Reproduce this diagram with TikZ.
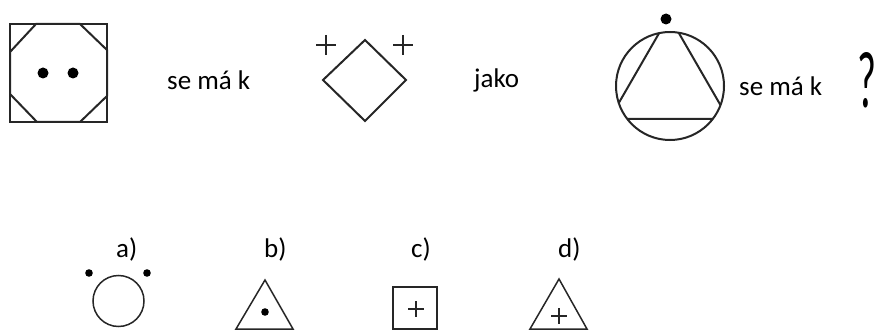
\documentclass[tikz,border=0pt]{standalone}
\usepackage{fontspec}
\setmainfont{Carlito}
\begin{document}
\begin{tikzpicture}[x=1pt,y=-1pt,
  fig/.style={draw=black!85, line width=2pt, line join=miter},
  small/.style={draw=black!85, line width=1.5pt, line join=miter},
  thin/.style={draw=black!85, line width=1.1pt},
  dot/.style={fill=black},
  lbl/.style={font=\fontsize{27}{31}\selectfont, inner sep=0pt, anchor=base west}]
\useasboundingbox (0,0) rectangle (877,331);
% figure 1: square with octagon and two dots
\draw[fig] (10,24) rectangle (107,122);
\draw[fig] (36,24) -- (80,24) -- (107,50) -- (107,96) -- (80,122) -- (37,122) -- (10,94) -- (10,52) -- cycle;
\fill[dot] (43,73) circle (5.5);
\fill[dot] (73,73) circle (5.5);
\node[lbl] (t1) at (167,90) {se má k};
% figure 2: diamond with two plus signs
\draw[fig] (365,40) -- (406,80) -- (365,121) -- (323,80) -- cycle;
\draw[fig, line width=2.6pt] (316,45) -- (336,45) (326,35) -- (326,55);
\draw[fig, line width=2.6pt] (393,45) -- (413,45) (403,35) -- (403,55);
\node[lbl] (t2) at (474,88) {jako};
% figure 3: circle with clipped triangle and dot
\draw[fig] (670,86) circle (54);
\begin{scope}
  \clip (670,86) circle (54);
  \draw[fig] (669,16) -- (728.5,119) -- (609.5,119) -- cycle;
\end{scope}
\fill[dot] (666,19) circle (5.5);
\node[lbl] (t3) at (739,96) {se má k};
\node[inner sep=0pt, anchor=north west] (q) at (857,52) {\resizebox{19pt}{55pt}{?}};
% answers
\node[lbl] (la) at (116,257) {a)};
\node[lbl] (lb) at (264,257) {b)};
\node[lbl] (lc) at (411,257) {c)};
\node[lbl] (ld) at (558,257) {d)};
% a
\draw[small] (118.5,301) circle (25.5);
\fill[dot] (89,273) circle (3.8);
\fill[dot] (147,273) circle (3.8);
% b
\draw[small] (265,280) -- (293,329) -- (236,329) -- cycle;
\fill[dot] (265,312) circle (3.8);
% c
\draw[small, line width=1.4pt] (393,287) rectangle (437,329);
\draw[thin] (408,309) -- (424,309) (416,301) -- (416,317);
% d
\draw[small] (559,279) -- (587,329) -- (530,329) -- cycle;
\draw[thin] (551,316) -- (567,316) (559,308) -- (559,324);
\end{tikzpicture}
\end{document}
